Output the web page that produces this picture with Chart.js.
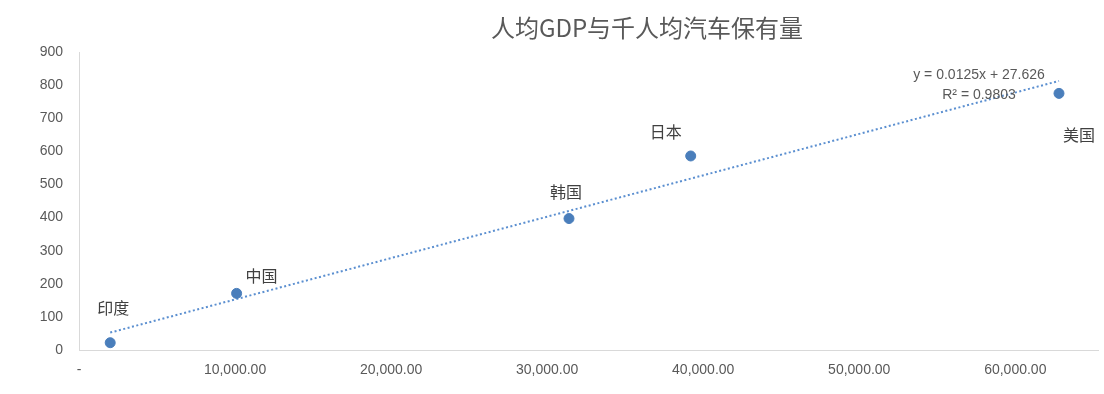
<!DOCTYPE html>
<html>
<head>
<meta charset="utf-8">
<script src="https://cdn.jsdelivr.net/npm/chart.js@4/dist/chart.umd.min.js"></script>
<style>
  body { margin: 0; background: #fff; }
  #wrap { width: 1104px; height: 394px; position: relative; }
</style>
</head>
<body>
<div id="wrap"><canvas id="myChart"></canvas></div>
<script>
const chartTitle = '人均GDP与千人均汽车保有量';
const countries = ['印度', '中国', '韩国', '日本', '美国'];
const gdpPerCapita = [2000, 10100, 31400, 39200, 62800];
const carsPer1000 = [22, 171, 397, 586, 775];
const xTicks = [0, 10000, 20000, 30000, 40000, 50000, 60000];
const yTicks = [0, 100, 200, 300, 400, 500, 600, 700, 800, 900];

// linear trendline fitted to the points
const trendSlope = 0.0125;
const trendIntercept = 27.626;
const trendR2 = 0.9803;

const points = gdpPerCapita.map((x, i) => ({ x: x, y: carsPer1000[i] }));
const xMin = Math.min(...gdpPerCapita);
const xMax = Math.max(...gdpPerCapita);
const trend = [xMin, xMax].map(x => ({ x: x, y: trendSlope * x + trendIntercept }));

// where each country name sits relative to its dot
const labelOffsets = [[3, -35], [25, -17], [-3, -27], [-25, -24], [20, 42]];

const textColor = '#595959';
const fontFamily = '"Liberation Sans", "Noto Sans CJK SC", sans-serif';
const cjkFamily = '"Noto Sans CJK SC", sans-serif';

Chart.defaults.font.family = fontFamily;

const annotations = {
    id: 'annotations',
    afterDatasetsDraw(chart) {
        const ctx = chart.ctx;
        ctx.save();
        ctx.textAlign = 'center';
        ctx.textBaseline = 'middle';

        // title
        ctx.fillStyle = textColor;
        ctx.font = '24px ' + cjkFamily;
        ctx.fillText(chartTitle, 647, 28);

        // country names
        const dots = chart.getDatasetMeta(0).data;
        ctx.fillStyle = '#404040';
        ctx.font = '16px ' + cjkFamily;
        dots.forEach((pt, i) => {
            const off = labelOffsets[i];
            ctx.fillText(countries[i], pt.x + off[0], pt.y + off[1]);
        });

        // trendline equation
        const end = chart.getDatasetMeta(1).data[1];
        ctx.fillStyle = textColor;
        ctx.font = '14px ' + fontFamily;
        ctx.fillText('y = ' + trendSlope + 'x + ' + trendIntercept, end.x - 80, end.y - 6);
        ctx.fillText('R² = ' + trendR2, end.x - 80, end.y + 14);
        ctx.restore();
    }
};

const data = {
    datasets: [{
        label: '千人均汽车保有量',
        type: 'scatter',
        data: points,
        backgroundColor: '#4A7EBB',
        borderColor: '#4A7EBB',
        pointRadius: 5,
        pointHoverRadius: 5
    }, {
        label: '线性趋势线',
        type: 'line',
        data: trend,
        borderColor: '#5B8FD0',
        borderWidth: 2,
        borderDash: [2, 2.5],
        pointRadius: 0,
        fill: false
    }]
};

const config = {
    type: 'scatter',
    data: data,
    options: {
        responsive: true,
        maintainAspectRatio: false,
        animation: false,
        layout: {
            padding: { top: 52, right: 4, left: 0, bottom: 0 }
        },
        plugins: {
            legend: { display: false },
            tooltip: { enabled: false }
        },
        scales: {
            x: {
                type: 'linear',
                min: 0,
                max: 65300,
                afterBuildTicks: scale => {
                    scale.ticks = xTicks.map(v => ({ value: v }));
                },
                afterFit: scale => { scale.height = 44; },
                grid: { display: false, drawTicks: false },
                border: { color: '#d9d9d9', width: 1 },
                ticks: {
                    color: textColor,
                    font: { size: 14 },
                    padding: 12,
                    maxRotation: 0,
                    callback: v => v === 0 ? '-' :
                        v.toLocaleString('en-US', { minimumFractionDigits: 2, maximumFractionDigits: 2 })
                }
            },
            y: {
                min: 0,
                max: 900,
                afterBuildTicks: scale => {
                    scale.ticks = yTicks.map(v => ({ value: v }));
                },
                afterFit: scale => { scale.width = 79; },
                grid: { display: false, drawTicks: false },
                border: { color: '#d9d9d9', width: 1 },
                ticks: {
                    color: textColor,
                    font: { size: 14 },
                    padding: 16
                }
            }
        }
    },
    plugins: [annotations]
};

const myChart = new Chart(document.getElementById('myChart'), config);
</script>
</body>
</html>
